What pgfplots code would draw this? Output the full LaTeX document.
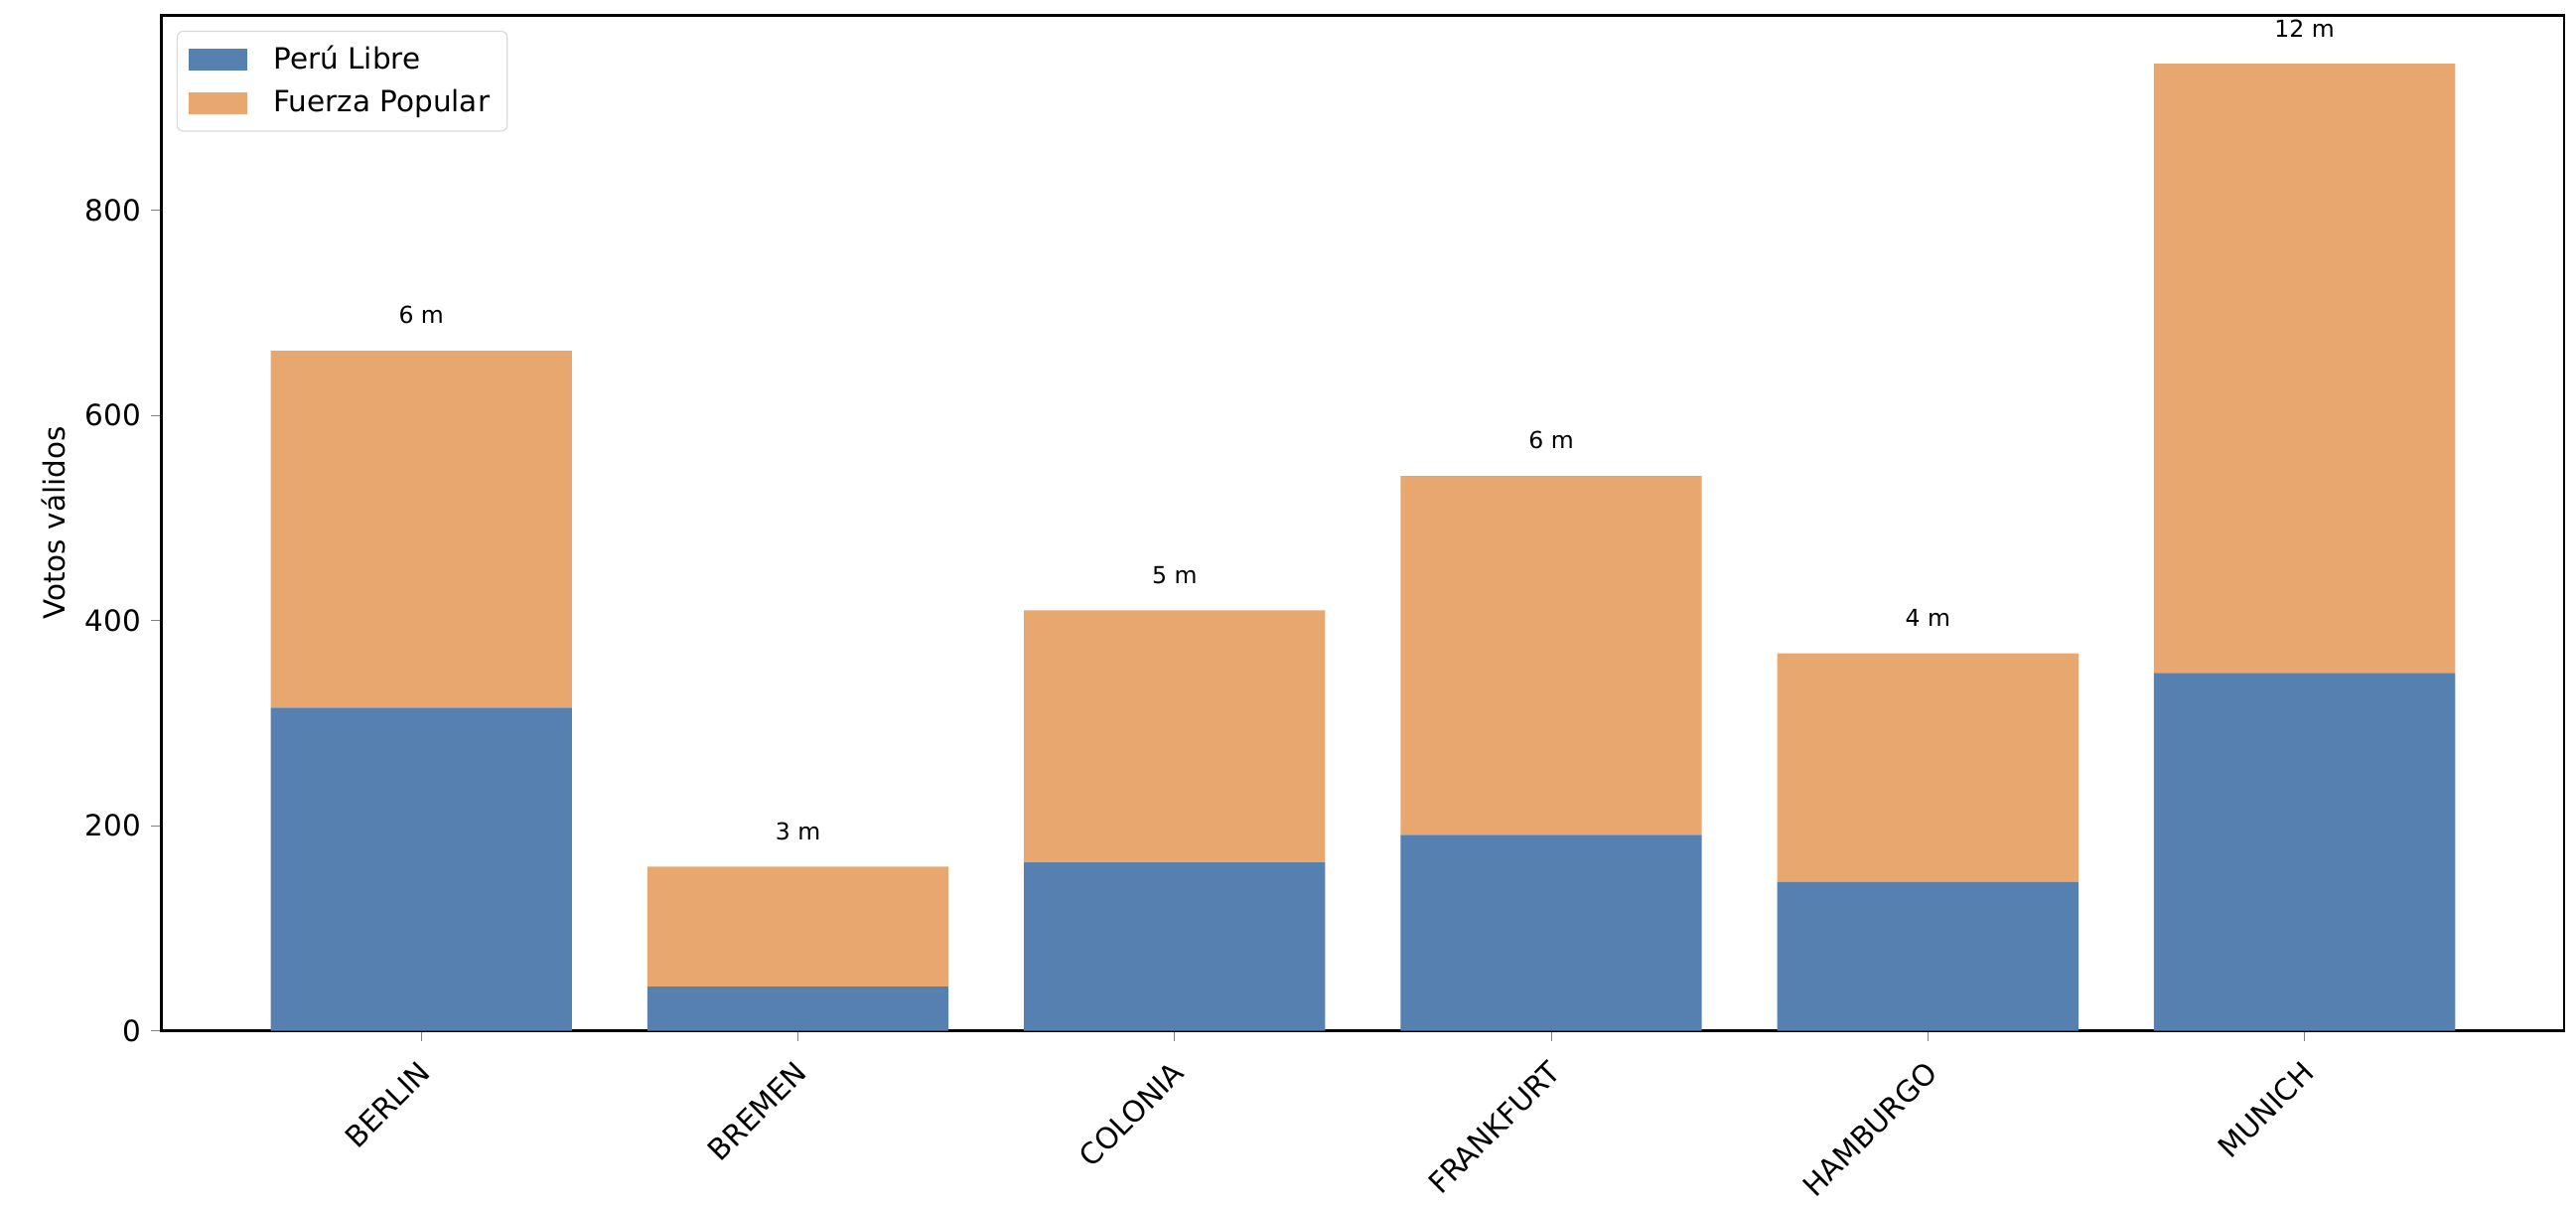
\documentclass[border=0pt]{standalone}
\usepackage{pgfplots}
\pgfplotsset{compat=1.18}
\usepackage{pgfplotstable}
\usepackage{fontspec}
\setmainfont{DejaVu Sans}

\definecolor{perulibre}{RGB}{85,128,176}
\definecolor{fuerzapop}{RGB}{232,167,110}

% votos validos por ciudad (pl = Peru Libre, fp = Fuerza Popular, tot = suma)
\pgfplotstableread{
x pl fp tot lab
0 315 348 663 {6 m}
1 43 117 160 {3 m}
2 164 246 410 {5 m}
3 191 350 541 {6 m}
4 145 223 368 {4 m}
5 349 594 943 {12 m}
}\votos

\pgfplotsset{
    common/.style={
        scale only axis,
        width=821.6pt,
        height=347pt,
        xmin=-0.69, xmax=5.69,
        ymin=0, ymax=990,
    },
}

\begin{document}
\begin{tikzpicture}
    \begin{axis}[
            common,
            ybar stacked,
            bar width=0.8,
            xtick=data,
            xticklabels={BERLIN,BREMEN,COLONIA,FRANKFURT,HAMBURGO,MUNICH},
            xticklabel style={rotate=45, anchor=north east, xshift=-2pt, font=\fontsize{10}{12}\selectfont},
            ytick={0,200,400,600,800},
            yticklabel style={font=\fontsize{10}{12}\selectfont},
            /pgf/number format/assume math mode=true,
            ylabel={Votos válidos},
            ylabel style={font=\fontsize{10}{12}\selectfont},
            tick align=outside,
            tick pos=left,
            major tick length=3.5pt,
            axis line style={line width=0.8pt},
            legend style={at={(0.0063,0.985)}, anchor=north west, draw=black!15,
                rounded corners=2pt, font=\fontsize{10}{12}\selectfont,
                row sep=1.5pt, inner xsep=4pt, inner ysep=3pt},
            legend cell align=left,
            legend image code/.code={\fill[#1, sharp corners] (0pt,-3.75pt) rectangle (20pt,3.75pt); \path (27pt,0pt);},
        ]
        \addplot[fill=perulibre, draw=none] table[x=x, y=pl] {\votos};
        \addlegendentry{Perú Libre}
        \addplot[fill=fuerzapop, draw=none] table[x=x, y=fp] {\votos};
        \addlegendentry{Fuerza Popular}
    \end{axis}
    % second axis over the first, only for the labels above each bar
    \begin{axis}[common, hide axis]
        \addplot[draw=none, mark=none,
            nodes near coords,
            point meta=explicit symbolic,
            every node near coord/.append style={font=\fontsize{8}{9.6}\selectfont, text=black, anchor=south, yshift=5.6pt},
        ] table[x=x, y=tot, meta=lab] {\votos};
    \end{axis}
    \path ([shift={(-55.2pt,-62pt)}]current axis.south west) rectangle ([shift={(4pt,5.3pt)}]current axis.north east);
\end{tikzpicture}
\end{document}
